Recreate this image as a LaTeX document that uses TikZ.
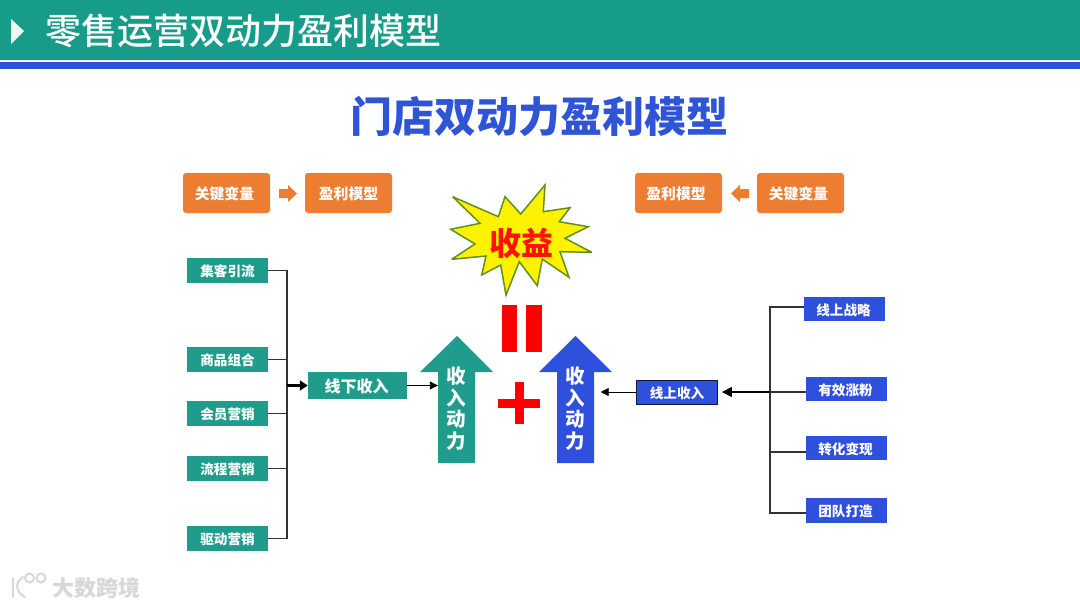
\documentclass[tikz,border=0pt]{standalone}
\usepackage{fontspec}
\setmainfont{Noto Sans CJK SC}
\newfontfamily\headfont{Noto Sans CJK SC Medium}
\usetikzlibrary{arrows.meta,calc}
\definecolor{headteal}{HTML}{179C8A}
\definecolor{boxteal}{HTML}{1F9C8B}
\definecolor{boxblue}{HTML}{2F4FDD}
\definecolor{titleblue}{HTML}{2F55D6}
\definecolor{boxorange}{HTML}{ED7D31}
\definecolor{starline}{HTML}{5F9020}
\definecolor{wmgray}{HTML}{D8D8D8}
\newcommand{\lb}[2][0pt]{\hspace*{#1}\raisebox{-1pt}[\height][\depth]{#2}}
\tikzset{
  tealbox/.style={fill=boxteal,text=white,inner sep=0pt,font=\bfseries\fontsize{13.6pt}{14pt}\selectfont,minimum width=81pt,minimum height=25pt},
  bluebox/.style={fill=boxblue,text=white,inner sep=0pt,font=\bfseries\fontsize{13.6pt}{14pt}\selectfont,minimum width=81pt,minimum height=24.5pt},
  orangebox/.style={fill=boxorange,text=white,inner sep=0pt,rounded corners=3pt,font=\bfseries\fontsize{14.8pt}{15pt}\selectfont,minimum width=87pt,minimum height=40pt},
  conn/.style={draw=black!80,line width=1.1pt},
  thinarrow/.style={draw=black,line width=0.9pt,-{Triangle[length=8pt,width=8pt]}},
  thickarrow/.style={draw=black,line width=2.8pt,-{Triangle[length=8pt,width=10pt]}},
  shafttext/.style={text=white,inner sep=0pt,align=center,font=\bfseries\fontsize{19.5pt}{21.7pt}\selectfont,minimum height=91pt},
}
\begin{document}
\begin{tikzpicture}[x=1pt,y=-1pt]
\useasboundingbox (0,0) rectangle (1080,608);
\fill[white] (0,0) rectangle (1080,608);
% header
\fill[headteal] (0,0) rectangle (1080,60);
\fill[boxblue] (0,62) rectangle (1080,69);
\fill[white!92!headteal] (11,19) -- (24,31) -- (11,44) -- cycle;
\node[anchor=west,inner sep=0pt,text=white,font=\headfont\fontsize{36pt}{38pt}\selectfont] (head) at (45,31) {零售运营双动力盈利模型};
\node[inner sep=0pt,text=titleblue,font=\bfseries\fontsize{42pt}{44pt}\selectfont] (title) at (539.5,116) {门店双动力盈利模型};
% orange row
\node[orangebox] (ok1) at (226.5,193) {\lb[-4pt]{关键变量}};
\node[orangebox] (om1) at (348.5,193) {\lb{盈利模型}};
\node[orangebox] (om2) at (678.5,193) {\lb[-5pt]{盈利模型}};
\node[orangebox] (ok2) at (800.5,193) {\lb[-4pt]{关键变量}};
\fill[boxorange] (279,189) -- (288,189) -- (288,185) -- (297,193.5) -- (288,202) -- (288,198) -- (279,198) -- cycle;
\fill[boxorange] (749,189) -- (740,189) -- (740,185) -- (731,193.5) -- (740,202) -- (740,198) -- (749,198) -- cycle;
% left boxes
\node[tealbox] (l1) at (227.5,270.5) {\lb{集客引流}};
\node[tealbox] (l2) at (227.5,359.5) {\lb{商品组合}};
\node[tealbox] (l3) at (227.5,413.5) {\lb{会员营销}};
\node[tealbox] (l4) at (227.5,468.5) {\lb{流程营销}};
\node[tealbox] (l5) at (227.5,538.5) {\lb{驱动营销}};
\node[tealbox,minimum width=99pt,minimum height=27pt,font=\bfseries\fontsize{16pt}{16pt}\selectfont] (lsum) at (357.5,385.5) {\lb[-2pt]{线下收入}};
\coordinate (lbus) at (287,385.5);
\draw[conn] (l1.east) -- (l1.east -| lbus) -- (l5.east -| lbus) -- (l5.east);
\draw[conn] (l2.east) -- (l2.east -| lbus);
\draw[conn] (l3.east) -- (l3.east -| lbus);
\draw[conn] (l4.east) -- (l4.east -| lbus);
\draw[thickarrow] (lbus) -- (lsum.west);
% teal arrow
\fill[boxteal] (457,336) -- (493,372) -- (475,372) -- (475,463) -- (438,463) -- (438,372) -- (420,372) -- cycle;
\node[shafttext,minimum width=37pt] (tarrow) at (456.5,408.5) {收\\入\\动\\力};
\draw[thinarrow] (lsum.east) -- (tarrow.west |- lsum.east);
% blue arrow
\fill[boxblue] (575.5,336) -- (612,372) -- (594,372) -- (594,463) -- (557,463) -- (557,372) -- (539,372) -- cycle;
\node[shafttext,minimum width=37pt] (barrow) at (575,408.5) {收\\入\\动\\力};
% plus and equals
\fill[red] (498,399) rectangle (540,408);
\fill[red] (515,382) rectangle (524,424);
\fill[red] (502,305) rectangle (517,352);
\fill[red] (526,305) rectangle (542,352);
% star
\path[draw=starline,line width=1.5pt,fill=yellow,line join=miter,miter limit=4] (545,185) -- (543.3,211.7) -- (570,207.7) -- (559.3,221.7) -- (588.3,226.7) -- (565,238.3) -- (591.7,252.3) -- (560,251.7) -- (569,277.3) -- (542.3,259) -- (537.3,285.7) -- (519.3,261.7) -- (506,295) -- (500.7,265) -- (481.7,275) -- (486,256) -- (451.7,259.3) -- (475,244) -- (450.7,229.3) -- (480,223.3) -- (452.7,196.7) -- (498.3,216.7) -- (505,196.7) -- (520.7,214) -- cycle;
\node[inner sep=0pt,text=red!85!orange,font=\bfseries\fontsize{32pt}{34pt}\selectfont] (gain) at (521,243) {收益};
% right boxes
\node[bluebox] (r1) at (844.5,309) {\lb[-2pt]{线上战略}};
\node[bluebox] (r2) at (846.5,389) {\lb[-2pt]{有效涨粉}};
\node[bluebox] (r3) at (846.5,448) {\lb[-2pt]{转化变现}};
\node[bluebox] (r4) at (846.5,510.5) {\lb[-2pt]{团队打造}};
\node[bluebox,draw=black!70!boxblue,line width=0.8pt,minimum width=81pt,minimum height=24pt] (rsum) at (677,392) {\lb{线上收入}};
\coordinate (rbus) at (770,392);
\coordinate (r1in) at ([yshift=2pt]r1.west);
\coordinate (r3in) at ([yshift=-4pt]r3.west);
\coordinate (r4in) at ([yshift=-2.5pt]r4.west);
\coordinate (r2in) at (r2.west |- rbus);
\draw[conn] (r1in) -- (r1in -| rbus) -- (r4in -| rbus) -- (r4in);
\draw[conn] (r3in) -- (r3in -| rbus);
\draw[conn] (r2in) -- (rbus);
\draw[draw=black,line width=1.2pt,shorten >=4pt,-{Triangle[length=10pt,width=10pt]}] (rbus) -- (rsum.east);
\draw[thinarrow] (rsum.west) -- ([xshift=7pt]barrow.east |- rsum.west);
% watermark
\begin{scope}[draw=wmgray,line width=2pt,line cap=round]
\draw (13,578) -- (13,597);
\draw (23,577) .. controls (15,582) and (15,592) .. (25,597);
\draw (29.5,578) circle (4.5);
\draw (41,578) circle (4.5);
\end{scope}
\node[anchor=west,inner sep=0pt,text=wmgray,font=\bfseries\fontsize{22pt}{22pt}\selectfont] (wm) at (52,588) {大数跨境};
\end{tikzpicture}
\end{document}
